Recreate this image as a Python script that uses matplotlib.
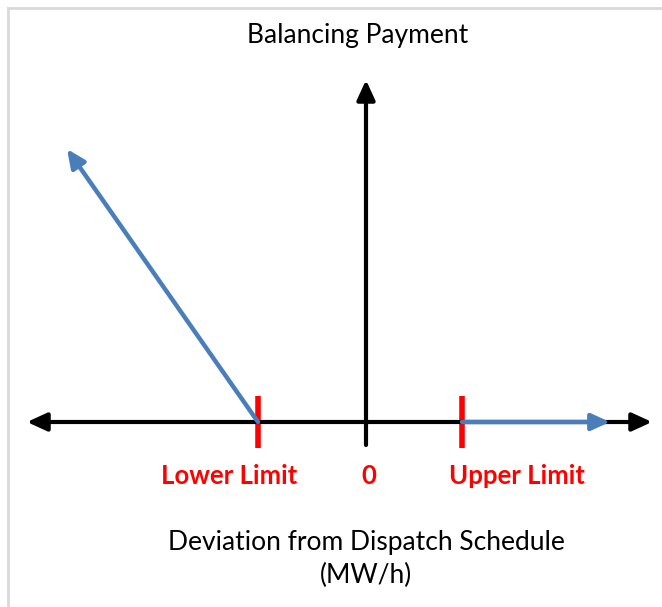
import matplotlib.pyplot as plt
from matplotlib.lines import Line2D

# diagram values (arbitrary units, origin at zero deviation)
lower_limit = -1.08
upper_limit = 0.96
x_axis_ends = [-3.39, 2.86]
y_axis_ends = [-0.23, 3.42]
penalty_start = [lower_limit, 0.0]
penalty_end = [-2.99, 2.73]
upper_start = [upper_limit, 0.0]
upper_end = [2.44, 0.0]
tick_half = 0.26

labels = ["Lower Limit", "0", "Upper Limit"]
label_x = [-1.37, 0.03, 1.51]

plt.rcParams['font.family'] = ['Lato', 'DejaVu Sans']

fig = plt.figure(figsize=(6.62, 6.07), dpi=100)
ax = fig.add_axes([0, 0, 1, 1])
ax.set_xlim(-3.66, 2.96)
ax.set_ylim(-1.85, 4.22)
ax.axis('off')

black = dict(arrowstyle='<|-|>,head_length=12,head_width=5.5', color='black',
             lw=3, shrinkA=0, shrinkB=0, mutation_scale=1)
ax.annotate('', xy=(x_axis_ends[1], 0), xytext=(x_axis_ends[0], 0), arrowprops=black)
ax.annotate('', xy=(0, y_axis_ends[1]), xytext=(0, y_axis_ends[0]),
            arrowprops=dict(black, arrowstyle='-|>,head_length=12,head_width=5.5'))

blue = dict(arrowstyle='-|>,head_length=11,head_width=5', color='#4a7ebb',
            lw=3.2, shrinkA=0, shrinkB=0, mutation_scale=1)
ax.annotate('', xy=penalty_end, xytext=penalty_start, arrowprops=blue)
ax.annotate('', xy=upper_end, xytext=upper_start, arrowprops=blue)

for xl in [lower_limit, upper_limit]:
    ax.plot([xl, xl], [-tick_half, tick_half], color='#ff0000', lw=4, solid_capstyle='butt')

for t, xl in zip(labels, label_x):
    ax.text(xl, -0.54, t, color='#ff0000', fontsize=18.5, fontweight='bold',
            ha='center', va='center')

ax.text(-0.08, 3.87, "Balancing Payment", fontsize=19, ha='center', va='center')
ax.text(0.0, -1.37, "Deviation from Dispatch Schedule\n(MW/h)", fontsize=19,
        ha='center', va='center', linespacing=1.4)

# frame edges (top and left only)
fig.add_artist(Line2D([8 / 662, 8 / 662], [0, 1 - 8 / 607], transform=fig.transFigure,
                      color='#d9d9d9', lw=2))
fig.add_artist(Line2D([8 / 662, 1], [1 - 8 / 607, 1 - 8 / 607], transform=fig.transFigure,
                      color='#d9d9d9', lw=2))

fig.savefig('out.png', dpi=100)
